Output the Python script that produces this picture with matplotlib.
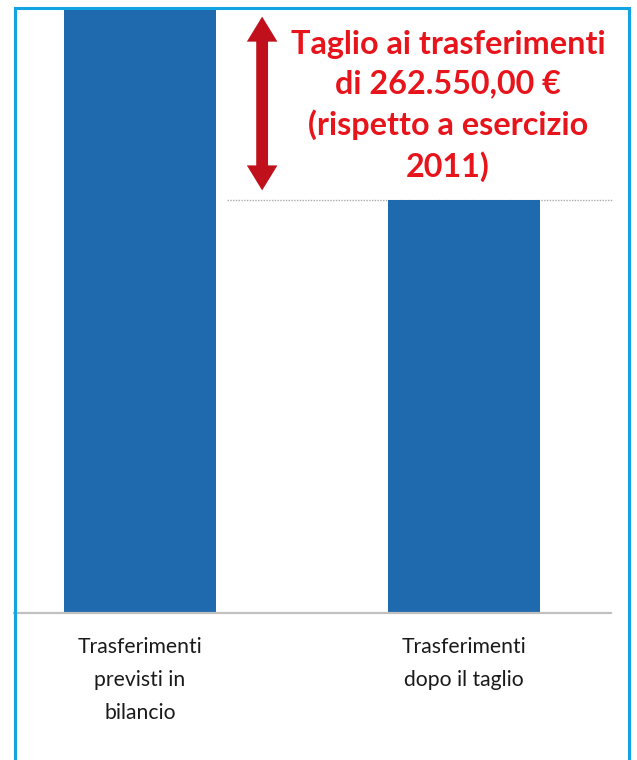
#!/usr/bin/env python3

import matplotlib as mpl
import matplotlib.pyplot as plt
from matplotlib.patches import Rectangle, FancyArrowPatch

categories = ["Trasferimenti\nprevisti in\nbilancio", "Trasferimenti\ndopo il taglio"]
valori = [827300, 564750]
taglio = 262550

W, H = 637, 760


def setupPlots():
	mpl.rcParams["font.family"] = ["Lato", "DejaVu Sans"]
	mpl.rcParams["figure.dpi"] = 100
	mpl.rcParams["savefig.dpi"] = 100


setupPlots()
fig = plt.figure(figsize=(W / 100, H / 100))
fig.patch.set_facecolor("white")

# axes placed in pixel coords
left, right, top, bottom = 14, 611, 8, 613
ax = fig.add_axes([left / W, 1 - bottom / H, (right - left) / W, (bottom - top) / H])

xs = [0, 1]
ax.bar(xs, valori, width=0.47, color="#1f6aae", zorder=2)
ax.set_xlim(-0.389, 1.454)
ax.set_ylim(0, valori[0])

for s in ["top", "left", "right"]:
	ax.spines[s].set_visible(False)
ax.spines["bottom"].set_color("#c0c0c0")
ax.spines["bottom"].set_linewidth(1.6)
ax.set_yticks([])
ax.set_xticks(xs)
ax.set_xticklabels(categories, fontsize=15.2, color="#1a1a1a", linespacing=1.84)
ax.tick_params(axis="x", length=0, pad=17)

# dotted reference lines
ax.hlines([valori[1], valori[0]], 0.27, 1.46, colors="#aaaaaa", linestyles=(0, (1, 1)), linewidth=1, zorder=1, clip_on=False)

# double arrow
ax_x = 0.377
mid = (valori[0] + valori[1]) / 2
style = "simple,head_length=18,head_width=22,tail_width=8.5"
for end in [valori[0] - 0.045 * taglio, valori[1] + 0.05 * taglio]:
	ax.add_patch(FancyArrowPatch((ax_x, mid), (ax_x, end), arrowstyle=style, mutation_scale=1,
		color="#c0101c", linewidth=0, shrinkA=0, shrinkB=0, clip_on=False))

fig.text(448 / W, 1 - 106 / H, "Taglio ai trasferimenti\ndi %s €\n(rispetto a esercizio\n2011)" % "262.550,00",
	ha="center", va="center", fontsize=23.3, fontweight="bold", color="#e8141c", linespacing=1.42)

# blue frame
fig.patches.append(Rectangle((15 / W, -0.05), (629 - 15) / W, 1 - 8 / H + 0.05, transform=fig.transFigure,
	fill=False, edgecolor="#12a3e3", linewidth=2.2, zorder=10))

fig.savefig("out.png")
